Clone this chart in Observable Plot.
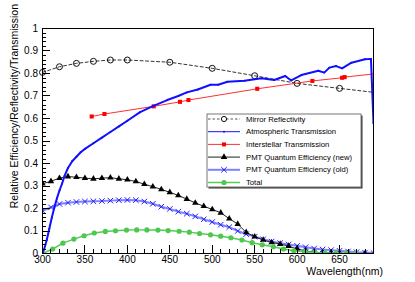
<!DOCTYPE html>
<html><head><meta charset="utf-8">
<script src="https://cdn.jsdelivr.net/npm/d3@7"></script>
<script src="https://cdn.jsdelivr.net/npm/@observablehq/plot@0.6"></script>
<style>body{margin:0;background:#fff} #chart svg{display:block}</style>
</head><body><div id="chart"></div>
<script>
// ---- data ----
const wlMirror = [300,320,340,360,380,400,450,500,550,600,650,700];
const mirror   = [0.805,0.830,0.845,0.854,0.860,0.860,0.850,0.823,0.790,0.756,0.734,0.712];

const wlAtm = [300,302,305,308,311,314,317,320,323,326,330,335,340,345,350,360,370,380,390,400,415,430,447,460,470,483,498,507,518,538,558,573,586,593,605,625,632,638,646,653,664,680,687,690];
const atm   = [0.0,0.02,0.06,0.11,0.16,0.205,0.245,0.28,0.31,0.345,0.38,0.41,0.43,0.45,0.465,0.49,0.515,0.54,0.565,0.59,0.628,0.655,0.682,0.70,0.716,0.729,0.750,0.750,0.763,0.768,0.779,0.771,0.789,0.769,0.793,0.812,0.804,0.826,0.833,0.823,0.848,0.863,0.865,0.58];

const wlIsm = [358,373,431,462,472,553,618,653,656,700];
const ism   = [0.609,0.620,0.654,0.674,0.682,0.732,0.767,0.781,0.784,0.802];

const wlPmt = [300,310,320,330,340,350,360,370,380,390,400,410,420,430,440,450,460,470,480,490,500,510,520,530,540,550,560,570,580,590,600,610,620,630,640,650,660,670,680];
const pmtNew = [0.310,0.321,0.335,0.342,0.339,0.335,0.332,0.335,0.337,0.332,0.328,0.320,0.308,0.297,0.285,0.272,0.258,0.242,0.225,0.210,0.196,0.181,0.155,0.131,0.094,0.075,0.060,0.049,0.042,0.033,0.020,0.012,0.005,0.002,0.002,0.001,0.001,0.0,0.0];

const wlOld = [300,310,320,330,340,350,360,370,380,390,400,410,420,430,440,450,460,470,480,490,500,510,520,530,540,550,560,570,580,590,600,610,620,630,640,650,660,670,680,690];
const pmtOld = [0.19,0.205,0.22,0.226,0.229,0.231,0.232,0.233,0.235,0.237,0.238,0.237,0.231,0.221,0.208,0.198,0.186,0.177,0.165,0.152,0.140,0.128,0.117,0.100,0.086,0.075,0.063,0.053,0.046,0.040,0.034,0.028,0.022,0.018,0.015,0.012,0.009,0.006,0.004,0.002];

const wlTot = [300,312,324,337,349,361,374,386,399,411,423,436,448,461,473,485,498,510,522,535,547,559,572,584,596,609,621,633,646,658,670];
const total = [0.0,0.020,0.046,0.064,0.079,0.091,0.098,0.101,0.104,0.105,0.105,0.104,0.102,0.099,0.095,0.089,0.083,0.077,0.070,0.060,0.048,0.039,0.030,0.020,0.012,0.008,0.005,0.002,0.002,0.001,0.001];

const xMajor = [300,350,400,450,500,550,600,650];
const xMinor = d3.range(300, 691, 10);
const yMajor = [0,0.1,0.2,0.3,0.4,0.5,0.6,0.7,0.8,0.9,1];
const yMinor = d3.range(0, 1.001, 0.02);

const xTitle = "Wavelength(nm)";
const yTitle = "Relative Efficiency/Reflectivity/Transmission";
const legendLabels = ["Mirror Reflectivity","Atmospheric Transmission","Interstellar Transmission","PMT Quantum Efficiency (new)","PMT Quantum Efficiency (old)","Total"];

const zip = (xs, ys) => xs.map((x, i) => ({x, y: ys[i]}));
const dMirror = zip(wlMirror, mirror), dAtm = zip(wlAtm, atm), dIsm = zip(wlIsm, ism),
      dNew = zip(wlPmt, pmtNew), dOld = zip(wlOld, pmtOld), dTot = zip(wlTot, total);
const inRange = d => d.x <= 690;

const W = 415, H = 282, ML = 42, MR = 42, MT = 28, MB = 29;
const font = "'Liberation Sans', Arial, Helvetica, sans-serif";

const chart = Plot.plot({
  width: W, height: H,
  marginLeft: ML, marginRight: MR, marginTop: MT, marginBottom: MB,
  style: {fontFamily: font, background: "white", color: "black"},
  x: {domain: [300, 690]},
  y: {domain: [0, 1]},
  marks: [
    Plot.axisY({ticks: yMajor, tickSize: 0, tickPadding: 4.5, fontSize: 10, label: null,
      tickFormat: d => d === 0 ? "0" : d === 1 ? "1" : d.toFixed(1)}),
    Plot.axisX({ticks: xMajor, tickSize: 0, tickPadding: 2, fontSize: 10, label: null, tickFormat: d => String(d)}),
    // Mirror
    Plot.line(dMirror, {x: "x", y: "y", stroke: "#333", strokeWidth: 1, strokeDasharray: "3,2.5", clip: true}),
    Plot.dot(dMirror.filter(inRange), {x: "x", y: "y", r: 3, stroke: "#111", fill: "none", strokeWidth: 1}),
    // Interstellar
    Plot.line(dIsm, {x: "x", y: "y", stroke: "#ff3030", strokeWidth: 1, clip: true}),
    Plot.dot(dIsm.filter(inRange), {x: "x", y: "y", symbol: "square", r: 2.3, fill: "#ff0000"}),
    // PMT old
    Plot.line(dOld, {x: "x", y: "y", stroke: "#8080ff", strokeWidth: 2, clip: true}),
    Plot.dot(dOld, {x: "x", y: "y", symbol: "times", r: 2.6, stroke: "#1f1fff", strokeWidth: 1, clip: true}),
    // PMT new
    Plot.line(dNew, {x: "x", y: "y", stroke: "#222", strokeWidth: 1, clip: true}),
    Plot.dot(dNew, {x: "x", y: "y", symbol: "triangle", r: 2.4, fill: "black", clip: true}),
    // Total
    Plot.line(dTot, {x: "x", y: "y", stroke: "#55cc55", strokeWidth: 1.5, clip: true}),
    Plot.dot(dTot, {x: "x", y: "y", r: 2.6, fill: "#4cc84c", clip: true}),
    // Atmospheric
    Plot.line(dAtm, {x: "x", y: "y", stroke: "#1010ff", strokeWidth: 2, clip: true}),
    Plot.dot(dAtm, {x: "x", y: "y", r: 1, fill: "#1010ff", clip: true}),
    Plot.frame({stroke: "black", strokeWidth: 1})
  ]
});
document.getElementById("chart").appendChild(chart);

// ---- inward ticks, titles and legend (tick positions from the plot's own scales) ----
const svg = d3.select(chart);
const sx = chart.scale("x"), sy = chart.scale("y");
const x0 = sx.apply(300), y0 = sy.apply(0);
const tk = svg.append("g").attr("stroke", "black").attr("stroke-width", 1);
yMinor.forEach(v => { const yy = Math.round(sy.apply(v)) + 0.5; const L = yMajor.some(m => Math.abs(m - v) < 1e-6) ? 8 : 4;
  tk.append("line").attr("x1", x0).attr("x2", x0 + L).attr("y1", yy).attr("y2", yy); });
xMinor.forEach(v => { const xx = Math.round(sx.apply(v)) + 0.5; const L = xMajor.includes(v) ? 8 : 4;
  tk.append("line").attr("x1", xx).attr("x2", xx).attr("y1", y0).attr("y2", y0 - L); });

svg.append("text").text(xTitle)
  .attr("x", 383).attr("y", 274.5).attr("text-anchor", "end")
  .attr("font-size", 10.5).attr("font-family", font).attr("fill", "black");
svg.append("text").text(yTitle)
  .attr("transform", "translate(17.5,4) rotate(-90)").attr("text-anchor", "end")
  .attr("font-size", 10.5).attr("font-family", font).attr("fill", "black");

const lg = svg.append("g");
const LX = 207, LY = 114, LW = 154, LH = 73;
lg.append("rect").attr("x", LX + 1.5).attr("y", LY + 1.5).attr("width", LW).attr("height", LH).attr("fill", "#333");
lg.append("rect").attr("x", LX).attr("y", LY).attr("width", LW).attr("height", LH).attr("fill", "white").attr("stroke", "#777").attr("stroke-width", 1);
const styles = [
  {stroke: "#555", dash: "2.5,2", w: 1, marker: "circle"},
  {stroke: "#1010ff", w: 1, marker: "dot"},
  {stroke: "#ff3030", w: 1, marker: "square"},
  {stroke: "#222", w: 1, marker: "triangle"},
  {stroke: "#8080ff", w: 2, marker: "times"},
  {stroke: "#55cc55", w: 1.5, marker: "green"}
];
legendLabels.forEach((lab, i) => {
  const cy = 119 + 12.7 * i;
  const st = styles[i];
  lg.append("line").attr("x1", 208).attr("x2", 240).attr("y1", cy).attr("y2", cy)
    .attr("stroke", st.stroke).attr("stroke-width", st.w).attr("stroke-dasharray", st.dash || null);
  const cx = 224;
  if (st.marker === "circle") lg.append("circle").attr("cx", cx).attr("cy", cy).attr("r", 2.6).attr("fill", "white").attr("stroke", "#111");
  if (st.marker === "dot") lg.append("circle").attr("cx", cx).attr("cy", cy).attr("r", 1).attr("fill", "#1010ff");
  if (st.marker === "square") lg.append("rect").attr("x", cx - 2).attr("y", cy - 2).attr("width", 4).attr("height", 4).attr("fill", "#ff0000");
  if (st.marker === "triangle") lg.append("path").attr("d", d3.symbol(d3.symbolTriangle, 2.4 * 2.4 * Math.PI)()).attr("transform", `translate(${cx},${cy})`).attr("fill", "black");
  if (st.marker === "times") lg.append("path").attr("d", d3.symbol(d3.symbolTimes, 2.6 * 2.6 * Math.PI)()).attr("transform", `translate(${cx},${cy})`).attr("stroke", "#1f1fff").attr("fill", "none");
  if (st.marker === "green") lg.append("circle").attr("cx", cx).attr("cy", cy).attr("r", 2.6).attr("fill", "#4cc84c");
  lg.append("text").text(lab).attr("x", 246).attr("y", cy).attr("dy", "0.35em").attr("text-anchor", "start")
    .attr("font-size", 7.7).attr("font-family", font).attr("fill", "black");
});
</script></body></html>
